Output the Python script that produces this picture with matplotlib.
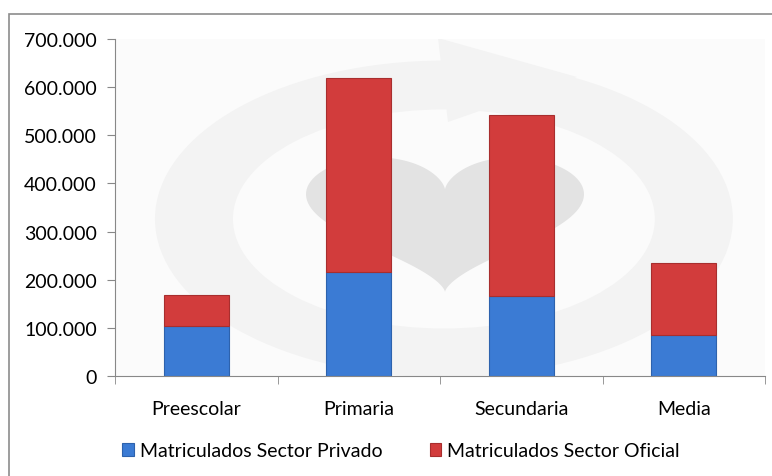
import numpy as np
import matplotlib
matplotlib.use("Agg")
import matplotlib.pyplot as plt
from matplotlib.patches import Ellipse, Polygon, Rectangle
from matplotlib.ticker import FuncFormatter

# datos
niveles = ["Preescolar", "Primaria", "Secundaria", "Media"]
privado = [104000, 215000, 166000, 85000]
oficial = [64000, 403000, 377000, 149000]
series = ["Matriculados Sector Privado", "Matriculados Sector Oficial"]

plt.rcParams['font.family'] = ['Lato', 'DejaVu Sans']

fig = plt.figure(figsize=(7.72, 4.77), dpi=100)
W, H = 772, 477
ax = fig.add_axes([115 / W, 1 - 377 / H, 650 / W, 337 / H])

# marco de la figura
fig.patches.append(Rectangle((9 / W, -0.1), 1.2, 1.1 - 15 / H, transform=fig.transFigure,
                             fill=False, edgecolor='#8c8c8c', linewidth=1.2))

ax.set_facecolor('#fbfbfb')

# marca de agua (anillo, flecha y corazon)
ax.add_patch(Ellipse((0.506, 0.466), 0.889, 0.94, transform=ax.transAxes,
                     facecolor='#f3f3f3', edgecolor='none', zorder=0))
ax.add_patch(Ellipse((0.506, 0.466), 0.649, 0.65, transform=ax.transAxes,
                     facecolor='#fbfbfb', edgecolor='none', zorder=0))


def px(x, y):
    return ((x - 115) / 650, (377 - y) / 337)


ax.add_patch(Polygon([px(438, 39), px(577, 78), px(448, 123)], closed=True,
                     transform=ax.transAxes, facecolor='#f3f3f3', edgecolor='none', zorder=0))
t = np.linspace(0, 2 * np.pi, 200)
hx = 16 * np.sin(t) ** 3
hy = 13 * np.cos(t) - 5 * np.cos(2 * t) - 2 * np.cos(3 * t) - np.cos(4 * t)
hxp = 445 + hx / 32 * 278
hyp = 158 + (12 - hy) / 29 * 135
ax.add_patch(Polygon([px(a, b) for a, b in zip(hxp, hyp)], closed=True,
                     transform=ax.transAxes, facecolor='#e3e3e3', edgecolor='none', zorder=0))

x = np.arange(len(niveles))
ax.bar(x, privado, width=0.4, color='#3b7bd4', edgecolor='#2d62ad', linewidth=0.8,
       label=series[0], zorder=2)
ax.bar(x, oficial, width=0.4, bottom=privado, color='#d23c3c', edgecolor='#a82e2e',
       linewidth=0.8, label=series[1], zorder=2)

ax.set_xlim(-0.5, 3.5)
ax.set_ylim(0, 700000)
ax.set_yticks(np.arange(0, 700001, 100000))
ax.yaxis.set_major_formatter(FuncFormatter(lambda v, p: f"{int(v):,}".replace(",", ".")))
ax.set_xticks(x)
ax.set_xticklabels(niveles)
ax.set_xticks(np.arange(-0.5, 3.6, 1), minor=True)
ax.tick_params(axis='x', which='major', length=0, pad=17, labelsize=14)
ax.tick_params(axis='x', which='minor', length=6, color='#888888', direction='out')
ax.tick_params(axis='y', length=6, color='#888888', labelsize=14, pad=7)

for s in ['top', 'right']:
    ax.spines[s].set_visible(False)
for s in ['left', 'bottom']:
    ax.spines[s].set_color('#888888')

ax.legend(loc='center', bbox_to_anchor=(0.44, (377 - 452) / 337), ncol=2, frameon=False,
          fontsize=14, handlelength=0.6, handleheight=0.6, handletextpad=0.3,
          columnspacing=2.45)

fig.savefig("out.png", dpi=100)
